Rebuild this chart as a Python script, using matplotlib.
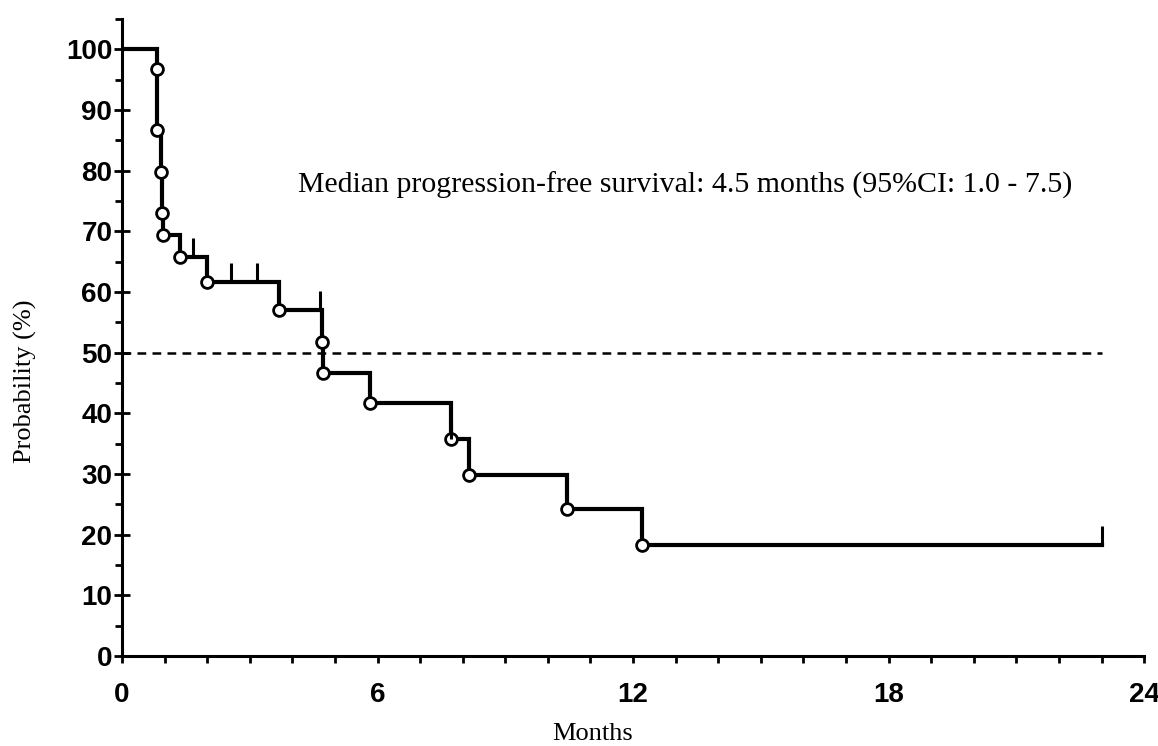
import numpy as np
import matplotlib.pyplot as plt
from matplotlib.ticker import MultipleLocator

# Kaplan-Meier progression-free survival
event_months = [0.82, 0.83, 0.92, 0.94, 0.96, 1.36, 2.0, 3.69, 4.69, 4.71,
                5.82, 7.72, 8.15, 10.45, 12.2]
event_surv = [96.7, 86.7, 79.7, 73.1, 69.4, 65.7, 61.6, 57.0, 51.7, 46.6,
              41.7, 35.8, 29.8, 24.2, 18.3]
censor_months = [1.67, 2.56, 3.17, 4.65, 7.72, 23.0]
last_followup = 23.0
median_line = 50
y_ticks = [0, 10, 20, 30, 40, 50, 60, 70, 80, 90, 100]
x_ticks = [0, 6, 12, 18, 24]
note = "Median progression-free survival: 4.5 months (95%CI: 1.0 - 7.5)"

serif = ['Liberation Serif', 'DejaVu Serif']
tickfont = ['Liberation Sans', 'DejaVu Sans']

fig = plt.figure(figsize=(11.58, 7.46), dpi=100)
ax = fig.add_axes([0.1054, 0.1206, 0.8826, 0.854])

t = np.array([0] + event_months + [last_followup])
s = np.array([100] + event_surv + [event_surv[-1]])
ax.step(t, s, where='post', color='black', lw=3.0, solid_joinstyle='miter')
ax.plot(event_months, event_surv, 'o', ms=8.5, mfc='white', mec='black', mew=2.0)

# censor marks
idx = np.searchsorted(t, censor_months, side='right') - 1
lev = s[idx]
ax.vlines(censor_months, lev, lev + 3.2, color='black', lw=2.2)

ax.plot([0, last_followup], [median_line, median_line], color='black',
        lw=1.8, dashes=(3.5, 2.5))

ax.text(4.13, 77.6, note, ha='left', va='center', fontsize=21.5, family=serif)

ax.set_xlim(0, 24)
ax.set_ylim(0, 105)
ax.set_xticks(x_ticks)
ax.set_yticks(y_ticks)
ax.xaxis.set_minor_locator(MultipleLocator(1))
ax.yaxis.set_minor_locator(MultipleLocator(5))
for sp in ['top', 'right']:
    ax.spines[sp].set_visible(False)
for sp in ['left', 'bottom']:
    ax.spines[sp].set_linewidth(2.2)
ax.tick_params(axis='y', which='major', direction='inout', length=12, width=2, pad=1)
ax.tick_params(axis='y', which='minor', direction='out', length=5, width=2)
ax.tick_params(axis='x', which='both', direction='out', length=5, width=2, pad=14)
for lab in ax.get_xticklabels() + ax.get_yticklabels():
    lab.set_family(tickfont)
    lab.set_fontweight('bold')
    lab.set_fontsize(20)

ax.set_xlabel('Months', fontsize=19, family=serif)
ax.set_ylabel('Probability (%)', fontsize=19, family=serif)
ax.xaxis.set_label_coords(0.46, -0.105)
ax.yaxis.set_label_coords(-0.083, 0.432)

fig.savefig('out.png', dpi=100)
